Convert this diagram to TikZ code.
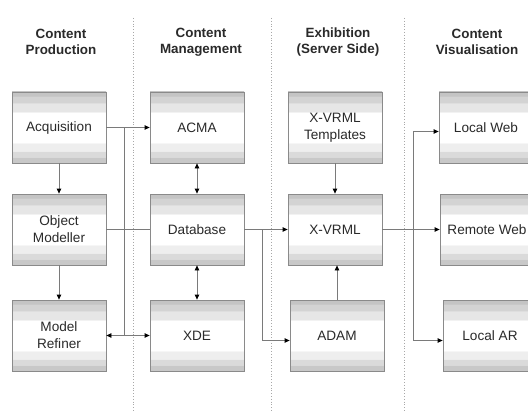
\documentclass[tikz,border=0pt]{standalone}
\usepackage{fontspec}
\setmainfont{Liberation Sans}
\usetikzlibrary{arrows.meta}

% banded grey-white-grey fill of the process boxes (central 25bp..75bp maps to the box)
\definecolor{bandD}{HTML}{C4C4C4}
\definecolor{bandM}{HTML}{D3D3D3}
\definecolor{bandL}{HTML}{E6E6E6}
\definecolor{bandL2}{HTML}{EEEEEE}
\definecolor{bandM2}{HTML}{DADADA}
\definecolor{bandD2}{HTML}{C8C8C8}
\pgfdeclareverticalshading{boxbands}{100bp}{%
  color(0bp)=(bandD2); color(29bp)=(bandD2);
  color(29.01bp)=(bandM2); color(33.5bp)=(bandM2);
  color(33.51bp)=(bandL2); color(39bp)=(bandL2);
  color(39.01bp)=(white); color(61bp)=(white);
  color(61.01bp)=(bandL); color(67.5bp)=(bandL);
  color(67.51bp)=(bandM); color(72bp)=(bandM);
  color(72.01bp)=(bandD); color(100bp)=(bandD)}

\definecolor{boxline}{HTML}{8A8A8A}
\definecolor{wire}{HTML}{7A7A7A}
\definecolor{ink}{HTML}{2A2A2A}
\definecolor{sep}{HTML}{A8A8A8}

\tikzset{
  procbox/.style={draw=boxline, line width=0.8pt, shading=boxbands,
    minimum width=94pt, minimum height=71pt, inner sep=0pt,
    align=center, font=\fontsize{13.6}{17}\selectfont, text=ink},
  heading/.style={align=center, font=\fontsize{13.4}{16}\selectfont\bfseries, text=ink},
  wireline/.style={draw=wire, line width=0.8pt},
  flow/.style={wireline, -{Triangle[length=5pt,width=4.5pt,color=black]}},
  biflow/.style={wireline, {Triangle[length=5pt,width=4.5pt,color=black]}-{Triangle[length=5pt,width=4.5pt,color=black]}},
  lane/.style={draw=sep, line width=0.8pt, dotted}
}

\begin{document}
\begin{tikzpicture}[x=1pt, y=-1pt]
  \useasboundingbox (0,0) rectangle (528,412);
  \clip (0,0) rectangle (528,412);
  \fill[white] (0,0) rectangle (528,412);

  % lane separators
  \draw[lane] (133,18) -- (133,412);
  \draw[lane] (271,18) -- (271,412);
  \draw[lane] (404,18) -- (404,412);

  % lane headings
  \node[heading] (h1) at (61,42) {Content\\Production};
  \node[heading] (h2) at (201,42) {Content\\Management};
  \node[heading] (h3) at (338,42) {Exhibition\\(Server Side)};
  \node[heading] (h4) at (477,42) {Content\\Visualisation};

  % boxes
  \node[procbox] (acq)   at (59,127.5)  {Acquisition};
  \node[procbox] (om)    at (59,229.5)  {Object\\Modeller};
  \node[procbox] (mr)    at (59,335.5)  {Model\\Refiner};
  \node[procbox] (acma)  at (197,127.5) {ACMA};
  \node[procbox] (db)    at (197,229.5) {Database};
  \node[procbox] (xde)   at (197,335.5) {XDE};
  \node[procbox] (tmpl)  at (335,127.5) {X-VRML\\Templates};
  \node[procbox] (xvrml) at (335,229.5) {X-VRML};
  \node[procbox] (adam)  at (337,335.5) {ADAM};
  \node[procbox] (lweb)  at (486,127.5) {Local Web};
  \node[procbox] (rweb)  at (487,229.5) {Remote Web};
  \node[procbox] (lar)   at (490,335.5) {Local AR};

  % bus lines
  \coordinate (busA) at (124,0);
  \coordinate (busB) at (262,0);
  \coordinate (busC) at (413,0);

  % production column
  \draw[flow] (acq) -- (om);
  \draw[flow] (om) -- (mr);
  \draw[flow] (acq.east) -- (acma.west);
  \draw[wireline] (busA |- acq.east) -- (busA |- mr.east);
  \draw[biflow] (mr.east) -- (xde.west);
  \draw[wireline] (om.east) -- (db.west);

  % management column
  \draw[biflow] (acma) -- (db);
  \draw[biflow] (db) -- (xde);
  \draw[flow] (db.east) -- (xvrml.west);
  \draw[flow] (busB |- db.east) |- ([yshift=-5pt]adam.west);

  % exhibition column
  \draw[flow] (tmpl) -- (xvrml);
  \draw[flow] (adam.north) -- (adam.north |- xvrml.south);

  % visualisation column
  \draw[flow] (xvrml.east) -- (rweb.west);
  \draw[flow] (busC |- xvrml.east) |- ([yshift=-4pt]lweb.west);
  \draw[flow] (busC |- xvrml.east) |- ([yshift=-5pt]lar.west);
\end{tikzpicture}
\end{document}
